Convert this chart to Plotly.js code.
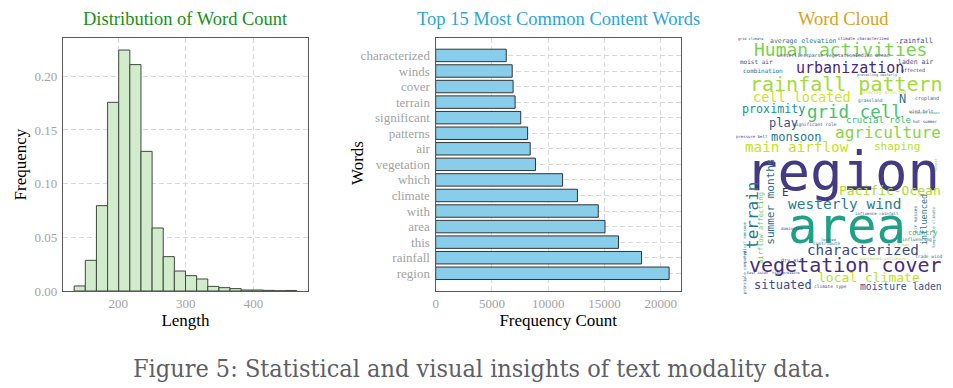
<!DOCTYPE html>
<html>
<head>
<meta charset="utf-8">
<script src="https://cdn.plot.ly/plotly-3.0.1.min.js"></script>
<style>html,body{margin:0;padding:0;background:#fff;}#chart{width:953px;height:388px;}</style>
</head>
<body>
<div id="chart"></div>
<script>
// ---- Histogram: Distribution of Word Count ----
const histEdges = [135, 151.45, 167.9, 184.35, 200.8, 217.25, 233.7, 250.15, 266.6, 283.05, 299.5, 315.95, 332.4, 348.85, 365.3, 381.75, 398.2, 414.65, 431.1, 447.55, 464.0];
const histFreq = [0.0047, 0.0286, 0.0795, 0.1758, 0.2245, 0.2109, 0.1301, 0.0587, 0.0320, 0.0186, 0.0143, 0.0112, 0.0043, 0.0031, 0.0022, 0.0009, 0.0009, 0.0006, 0.0002, 0.0005];
const histXTicks = [200, 300, 400];
const histYTicks = [0, 0.05, 0.10, 0.15, 0.20];
const histYTickText = ['0.00', '0.05', '0.10', '0.15', '0.20'];

// ---- Bar chart: Top 15 Most Common Content Words ----
const topWords = ['region', 'rainfall', 'this', 'area', 'with', 'climate', 'which', 'vegetation', 'air', 'patterns', 'significant', 'terrain', 'cover', 'winds', 'characterized'];
const topCounts = [20750, 18300, 16250, 15050, 14450, 12600, 11280, 8870, 8400, 8170, 7560, 7060, 6880, 6800, 6270];
const barXTicks = [0, 5000, 10000, 15000, 20000];
const barXTickText = ['0', '5000', '10000', '15000', '20000'];

// ---- Word cloud words ----
const cloudWords = ['Human activities', 'urbanization', 'rainfall pattern', 'cell located', 'N', 'grid cell', 'proximity', 'play', 'crucial role', 'agriculture', 'monsoon', 'main airflow', 'shaping', 'region', 'Pacific-Ocean', 'terrain', 'summer months', 'E', 'westerly wind', 'area', 'influenced', 'country', 'characterized', 'airflow affecting', 'vegetation cover', 'local climate', 'situated', 'moisture laden',
  'average elevation', '.rainfall', 'climate characterized', 'grid climate', 'westerliessparse vegetationIndian Ocean', 'moist air', 'laden air', 'combination', 'affected', 'prevailing westerly', 'directly affected', 'grassland', 'cropland', 'wind belt', 'significant role', 'hot summer', 'Atlantic Ocean', 'pressure belt', 'dry air', 'climate type', 'trade wind', 'contribute', 'monsoonal influence', 'dominated', 'influence rainfall', 'air masses', 'East Asian  high pressure', 'influencing', 'temperate climate', 'typical monsoon', 'principle compared', 'year', 'forest', 'located'];
const cloudX = [840.7, 850, 846.7, 801.7, 902.7, 854, 773.3, 783.3, 878.3, 888.3, 796.7, 796.7, 896.7, 842.3, 890, 752, 771, 785, 845, 846.7, 924, 923.3, 862.7, 760.7, 845, 869.3, 782.7, 901,
  803.3, 914.3, 863.3, 750, 833.3, 756.7, 915, 763.3, 913.3, 876.7, 883.3, 870, 926.7, 921.7, 815, 925, 925, 751.7, 791.7, 830, 928.3, 826.7, 883, 791.7, 876.7, 915, 773, 916.7, 933.3, 744, 744, 905, 936, 828];
const cloudY = [49.3, 68.3, 84, 97.3, 99.3, 111.7, 109.3, 122.7, 120, 132.3, 136.7, 146.7, 146.7, 171, 190.7, 216, 201.7, 192.7, 204, 226, 220, 232.7, 250, 228, 265, 277.3, 285, 286,
  41, 41, 38.3, 39, 56, 61, 61.7, 70, 70, 75, 92.7, 100, 98.7, 111, 124.3, 121.7, 112.7, 136.7, 260, 286, 256.7, 243.3, 258.3, 228.3, 213.3, 220, 273.3, 239.3, 226.7, 240, 272, 245, 165, 240];
const cloudSize = [18, 15, 20, 13.5, 12, 17.5, 11.7, 12, 9, 16, 12, 14.3, 11, 54, 13, 16, 11, 11, 14.5, 49, 8.5, 7, 14.3, 7, 20, 13, 12, 9.7,
  6.5, 7, 4, 3.5, 4.8, 6, 6.5, 6, 5, 3.5, 4.5, 4.5, 5, 4.5, 4.5, 4, 3.5, 4, 5, 4.5, 4.5, 4.5, 4, 4, 4, 4.5, 3.5, 4.5, 4, 4, 4, 3.5, 3.5, 3.5];
const cloudAngle = [0, 0, 0, 0, 0, 0, 0, 0, 0, 0, 0, 0, 0, 0, 0, -90, -90, 0, 0, 0, -90, 0, 0, -90, 0, 0, 0, 0,
  0, 0, 0, 0, 0, 0, 0, 0, 0, 0, 0, 0, 0, 0, 0, 0, 0, 0, 0, 0, 0, 0, 0, 0, 0, -90, 0, 0, -90, -90, -90, 0, -90, 0];
const cloudColor = ['#7ad151', '#46297a', '#a5db36', '#d2e21b', '#2c728e', '#4ac16d', '#21918c', '#3b528b', '#35b779', '#86d549', '#2a788e', '#c8e020', '#b8de29', '#443a83', '#addc30', '#2a788e', '#2d708e', '#46297a', '#287d8e', '#1fa187', '#2a788e', '#35b779', '#3e4989', '#5ec962', '#472d7b', '#c2df23', '#3e4a89', '#3b528b',
  '#2a788e', '#3e4a89', '#482878', '#3e4989', '#3b528b', '#3e4a89', '#3e4989', '#2d708e', '#46327e', '#2a788e', '#c8e020', '#2c728e', '#3b528b', '#3e4989', '#3e4989', '#3e4989', '#35b779', '#3e4989', '#3e4989', '#3e4989', '#2a788e', '#2d708e', '#b5de2b', '#3e4989', '#3e4989', '#2c728e', '#3e4989', '#2a788e', '#21918c', '#21918c', '#3e4989', '#b5de2b', '#5ec962', '#3b528b'];

const caption = 'Figure 5: Statistical and visual insights of text modality data.';

// ---- Build figure ----
const W = 953, H = 388;
const px = v => v / W;
const py = v => 1 - v / H;
const serif = 'Liberation Serif, Times New Roman, serif';
const tickFont = {family: serif, size: 13, color: '#a3a3a3'};
const titleFont = {family: serif, size: 17, color: '#000'};

const histCenters = histFreq.map((_, i) => (histEdges[i] + histEdges[i + 1]) / 2);
const histWidths = histFreq.map((_, i) => histEdges[i + 1] - histEdges[i]);

const traces = [
  {type: 'bar', x: histCenters, y: histFreq, width: histWidths, xaxis: 'x', yaxis: 'y',
   marker: {color: '#d3ebcd', line: {color: '#3c4a3c', width: 1}}, hoverinfo: 'skip', showlegend: false},
  {type: 'bar', orientation: 'h', x: topCounts, y: topWords, width: 0.8, xaxis: 'x2', yaxis: 'y2',
   marker: {color: '#88cde9', line: {color: '#333', width: 1}}, hoverinfo: 'skip', showlegend: false}
];

const axisCommon = {showline: true, mirror: true, linecolor: '#5a5a5a', linewidth: 1.2,
  showgrid: true, gridcolor: '#d9d9d9', gridwidth: 1, griddash: '5px,3px', zeroline: false,
  ticks: '', tickfont: tickFont, fixedrange: true};

const annotations = [
  {text: 'Distribution of Word Count', xref: 'paper', yref: 'paper', x: px(185.7), y: py(18.5), showarrow: false, xanchor: 'center', yanchor: 'middle', font: {family: serif, size: 18.5, color: '#1b8e1b'}},
  {text: 'Top 15 Most Common Content Words', xref: 'paper', yref: 'paper', x: px(558.7), y: py(18.5), showarrow: false, xanchor: 'center', yanchor: 'middle', font: {family: serif, size: 18.5, color: '#2ea5d7'}},
  {text: 'Word Cloud', xref: 'paper', yref: 'paper', x: px(843), y: py(18.5), showarrow: false, xanchor: 'center', yanchor: 'middle', font: {family: serif, size: 18.5, color: '#d6a41c'}},
  {text: 'Words', xref: 'paper', yref: 'paper', x: px(357), y: py(163), showarrow: false, textangle: -90, xanchor: 'center', yanchor: 'middle', font: titleFont},
  {text: caption, xref: 'paper', yref: 'paper', x: px(482), y: py(368), showarrow: false, xanchor: 'center', yanchor: 'middle', font: {family: 'DejaVu Serif Condensed, DejaVu Serif, serif', size: 25, color: '#5f5f66'}}
];

cloudWords.forEach((w, i) => {
  annotations.push({text: w, xref: 'x3', yref: 'y3', x: cloudX[i], y: cloudY[i], showarrow: false,
    xanchor: 'center', yanchor: 'middle', textangle: cloudAngle[i], borderpad: 0,
    font: {family: 'DejaVu Sans Mono, monospace', size: cloudSize[i], color: cloudColor[i]}});
});

const layout = {
  width: W, height: H, margin: {l: 0, r: 0, t: 0, b: 0},
  paper_bgcolor: '#fff', plot_bgcolor: '#fff', showlegend: false, bargap: 0,
  xaxis: Object.assign({}, axisCommon, {domain: [px(63), px(308)], range: [118.5, 480.5], tickmode: 'array', tickvals: histXTicks, anchor: 'y',
    title: {text: 'Length', font: titleFont, standoff: 0}, ticklabelstandoff: 0}),
  yaxis: Object.assign({}, axisCommon, {domain: [py(291), py(38)], range: [0, 0.2357], tickmode: 'array', tickvals: histYTicks, ticktext: histYTickText, anchor: 'x',
    title: {text: 'Frequency', font: titleFont, standoff: 3}, ticklabelstandoff: 2}),
  xaxis2: Object.assign({}, axisCommon, {domain: [px(435.7), px(680.7)], range: [0, 21780], tickmode: 'array', tickvals: barXTicks, ticktext: barXTickText, anchor: 'y2',
    title: {text: 'Frequency Count', font: titleFont, standoff: 0}, ticklabelstandoff: 0}),
  yaxis2: Object.assign({}, axisCommon, {domain: [py(291), py(37.7)], range: [-1.14, 15.14], type: 'category', tickmode: 'array', tickvals: topWords, ticktext: topWords, anchor: 'x2', ticklabelstandoff: 2}),
  xaxis3: {domain: [px(740), px(943)], range: [740, 943], visible: false, fixedrange: true, anchor: 'y3'},
  yaxis3: {domain: [py(293), py(37)], range: [293, 37], visible: false, fixedrange: true, anchor: 'x3'},
  annotations: annotations
};

Plotly.newPlot('chart', traces, layout, {staticPlot: true, displayModeBar: false});
</script>
</body>
</html>
